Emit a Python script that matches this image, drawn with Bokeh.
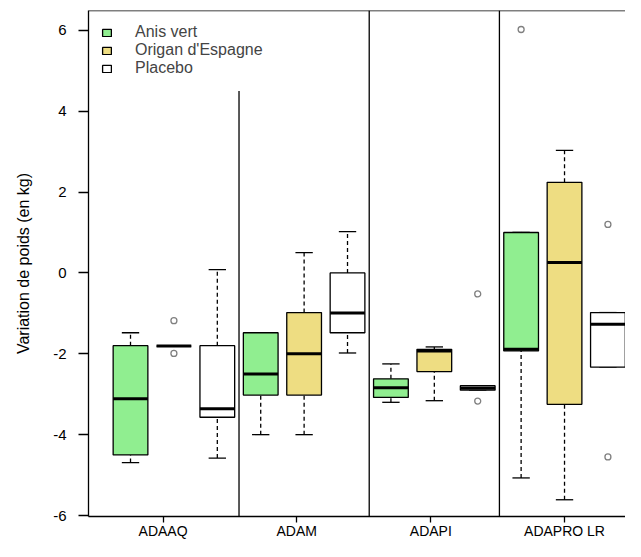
from bokeh.plotting import figure
from bokeh.models import (FixedTicker, Range1d, Span, Legend, LegendItem,
                          ColumnDataSource)
from bokeh.embed import file_html
from bokeh.resources import INLINE

groups = ["ADAAQ", "ADAM", "ADAPI", "ADAPRO LR"]
treatments = ["Anis vert", "Origan d'Espagne", "Placebo"]
colors = ["#90EE90", "#EEDD82", "#FFFFFF"]

# per treatment, per group: lower whisker, Q1, median, Q3, upper whisker
anis_lo = [-4.69, -4.00, -3.20, -5.07]
anis_q1 = [-4.50, -3.02, -3.08, -1.93]
anis_med = [-3.11, -2.50, -2.84, -1.89]
anis_q3 = [-1.80, -1.48, -2.62, 1.00]
anis_hi = [-1.48, -1.48, -2.25, 1.00]

origan_lo = [-1.81, -4.00, -3.16, -5.61]
origan_q1 = [-1.81, -3.02, -2.44, -3.25]
origan_med = [-1.81, -2.00, -1.93, 0.26]
origan_q3 = [-1.81, -0.98, -1.89, 2.24]
origan_hi = [-1.81, 0.50, -1.83, 3.03]

placebo_lo = [-4.58, -1.98, -2.90, -2.33]
placebo_q1 = [-3.57, -1.48, -2.90, -2.33]
placebo_med = [-3.36, -0.99, -2.85, -1.27]
placebo_q3 = [-1.80, 0.00, -2.79, -0.98]
placebo_hi = [0.08, 1.02, -2.79, -0.98]

# outliers: (group, treatment index, value)
out_group = ["ADAPRO LR", "ADAAQ", "ADAAQ", "ADAPI", "ADAPI", "ADAPRO LR", "ADAPRO LR"]
out_treat = [0, 1, 1, 2, 2, 2, 2]
out_value = [6.02, -1.18, -1.99, -0.52, -3.17, 1.20, -4.55]

y_ticks = [-6, -4, -2, 0, 2, 4, 6]
group_ticks = [1.75, 4.83, 7.92, 11.0]

stats = [
    (anis_lo, anis_q1, anis_med, anis_q3, anis_hi),
    (origan_lo, origan_q1, origan_med, origan_q3, origan_hi),
    (placebo_lo, placebo_q1, placebo_med, placebo_q3, placebo_hi),
]

FONT = "Liberation Sans"
BOXW = 0.8
CAPW = 0.4
YTOP = 6.49
YBOT = -6.024

p = figure(width=625, height=541, output_backend="svg", toolbar_location=None,
           x_range=Range1d(0.032, 12.405), y_range=Range1d(YBOT, YTOP),
           min_border_left=88, min_border_right=0, min_border_top=10,
           min_border_bottom=22)
p.outline_line_color = None
p.xgrid.visible = False
p.ygrid.visible = False
p.background_fill_color = "white"
p.border_fill_color = "white"

legend_items = []
for ti, (lo, q1, med, q3, hi) in enumerate(stats):
    xs = [gi * 3 + ti + 1 for gi in range(len(groups))]
    src = ColumnDataSource(dict(
        x=xs,
        left=[x - BOXW / 2 for x in xs], right=[x + BOXW / 2 for x in xs],
        cl=[x - CAPW / 2 for x in xs], cr=[x + CAPW / 2 for x in xs],
        lo=lo, q1=q1, med=med, q3=q3, hi=hi))
    # whiskers
    p.segment(x0="x", x1="x", y0="q3", y1="hi", source=src, line_color="black",
              line_width=1.3, line_dash="4 3")
    p.segment(x0="x", x1="x", y0="lo", y1="q1", source=src, line_color="black",
              line_width=1.3, line_dash="4 3")
    p.segment(x0="cl", x1="cr", y0="hi", y1="hi", source=src, line_color="black", line_width=1.3)
    p.segment(x0="cl", x1="cr", y0="lo", y1="lo", source=src, line_color="black", line_width=1.3)
    r = p.quad(left="left", right="right", bottom="q1", top="q3", source=src,
               fill_color=colors[ti], line_color="black", line_width=1.3)
    p.segment(x0="left", x1="right", y0="med", y1="med", source=src,
              line_color="black", line_width=3)
    legend_items.append(LegendItem(label=treatments[ti], renderers=[r]))

ox = [groups.index(g) * 3 + t + 1 for g, t in zip(out_group, out_treat)]
p.scatter(ox, out_value, marker="circle", size=6, fill_color=None,
          line_color="#808080", line_width=1.3)

# group separators
p.segment(x0=[3.5], x1=[3.5], y0=[YBOT], y1=[4.5], line_color="black", line_width=1.3)
p.segment(x0=[6.5, 9.5], x1=[6.5, 9.5], y0=[YBOT, YBOT], y1=[YTOP, YTOP],
          line_color="black", line_width=1.3)
p.add_layout(Span(location=YTOP, dimension="width", line_color="black", line_width=1.3))

legend = Legend(items=legend_items, location="top_left", margin=13, padding=3,
                border_line_color=None, background_fill_alpha=0,
                glyph_width=11, glyph_height=9, label_standoff=23, spacing=0,
                label_text_font=FONT, label_text_font_size="16px", label_height=18)
p.add_layout(legend)

# y axis
p.yaxis.ticker = FixedTicker(ticks=y_ticks)
p.yaxis.major_label_overrides = {t: str(t) for t in y_ticks}
p.yaxis.minor_tick_line_color = None
p.yaxis.major_tick_in = 0
p.yaxis.major_tick_out = 10
p.yaxis.major_tick_line_width = 1.3
p.yaxis.axis_line_width = 1.3
p.yaxis.major_label_standoff = 12
p.yaxis.major_label_text_font = FONT
p.yaxis.major_label_text_font_size = "15px"
p.yaxis.major_label_text_color = "black"
p.yaxis.major_label_orientation = "horizontal"
p.yaxis.axis_label = "Variation de poids (en kg)"
p.yaxis.axis_label_text_font = FONT
p.yaxis.axis_label_text_font_size = "16px"
p.yaxis.axis_label_text_font_style = "normal"
p.yaxis.axis_label_text_color = "black"
p.yaxis.axis_label_standoff = 18

# x axis
p.xaxis.ticker = FixedTicker(ticks=group_ticks)
p.xaxis.major_label_overrides = {t: g for t, g in zip(group_ticks, groups)}
p.xaxis.minor_tick_line_color = None
p.xaxis.major_tick_in = 0
p.xaxis.major_tick_out = 6
p.xaxis.major_tick_line_width = 1.3
p.xaxis.axis_line_width = 1.3
p.xaxis.major_label_standoff = 0
p.xaxis.major_label_text_font = FONT
p.xaxis.major_label_text_font_size = "14px"
p.xaxis.major_label_text_color = "black"

open("out.html", "w").write(file_html(p, INLINE))
